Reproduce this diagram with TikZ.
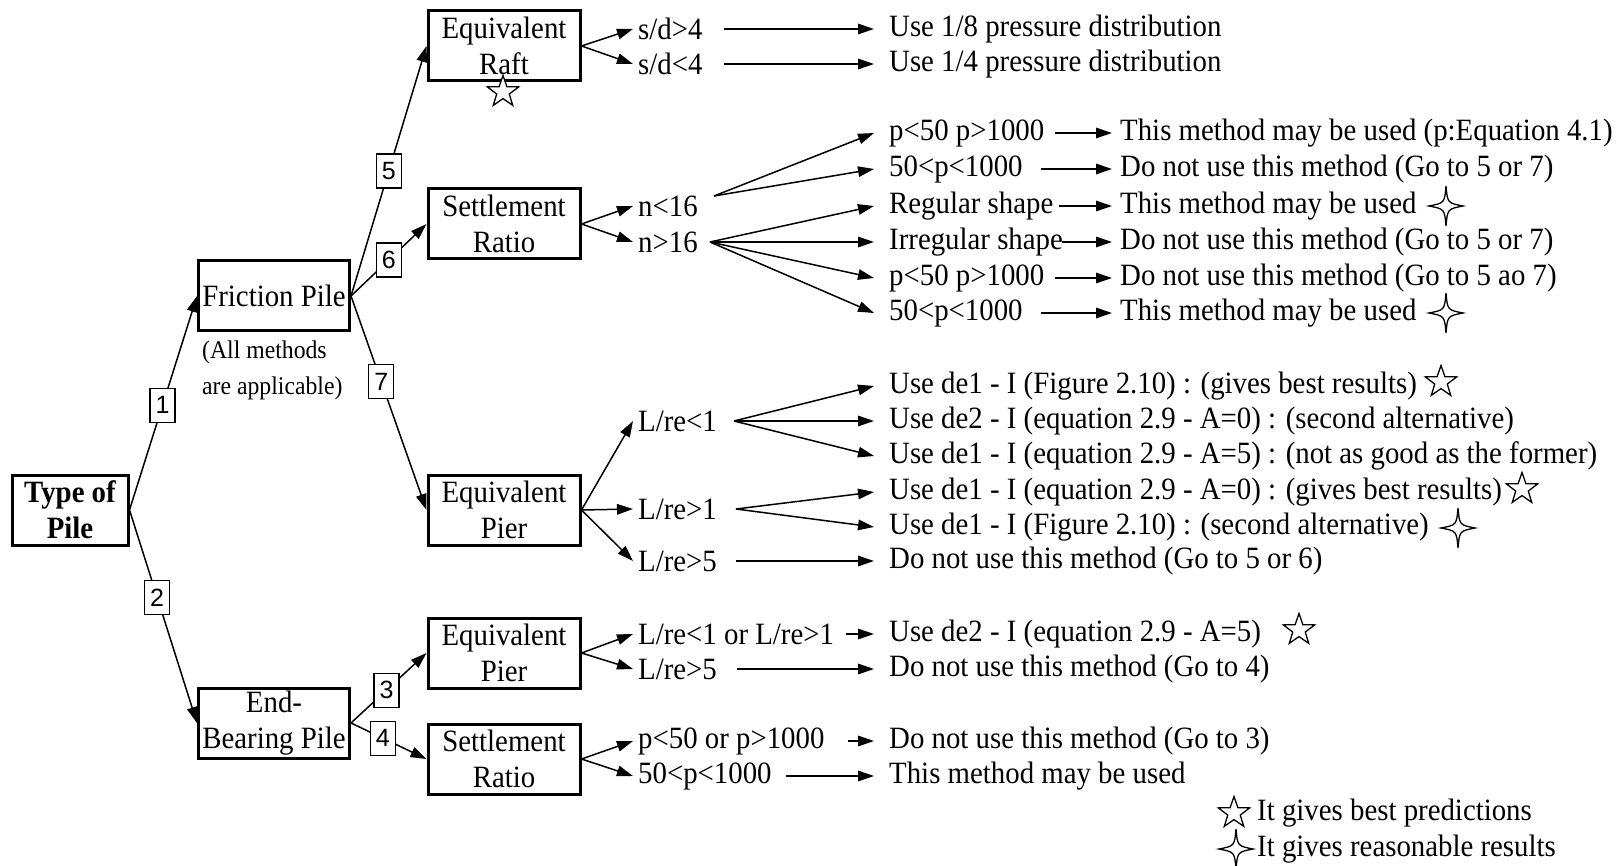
\documentclass[tikz,border=0pt]{standalone}
\usepackage{fontspec}
\setmainfont{Liberation Serif}[FakeStretch=0.93]
\setsansfont{Liberation Sans}
\usetikzlibrary{arrows.meta,calc}
\newcommand{\mainsz}{\fontsize{31}{36}\selectfont}
\newcommand{\notesz}{\fontsize{25.5}{36}\selectfont}
\tikzset{
  arr/.style={-{Triangle[length=16pt,width=10.5pt]}, line width=1.5pt},
  box/.style={draw, line width=3pt, minimum width=152pt, minimum height=70pt, align=center, inner sep=0pt, font=\mainsz},
  lbl/.style={draw, line width=1.2pt, fill=white, minimum width=25pt, minimum height=34pt, inner sep=0pt, font=\sffamily\fontsize{25}{25}\selectfont},
  cnd/.style={anchor=west, inner xsep=5pt, inner ysep=2pt, font=\mainsz},
  sec/.style={anchor=west, inner xsep=15pt, inner ysep=2pt, font=\mainsz},
  res/.style={anchor=west, inner xsep=8pt, inner ysep=2pt, font=\mainsz},
  plain/.style={anchor=west, inner sep=0pt, font=\mainsz},
  fivestar/.pic={\draw[line width=1.3pt, fill=white, line join=miter] (-90:16.5) -- (-54:6.6) -- (-18:16.5) -- (18:6.6) -- (54:16.5) -- (90:6.6) -- (126:16.5) -- (162:6.6) -- (198:16.5) -- (234:6.6) -- cycle;},
  fourstar/.pic={\draw[line width=1.3pt, fill=white] (0,-20) .. controls (1.5,-3) .. (17,0) .. controls (1.5,3) .. (0,20) .. controls (-1.5,3) .. (-17,0) .. controls (-1.5,-3) .. (0,-20) -- cycle;}
}
\begin{document}
\begin{tikzpicture}[x=1pt,y=-1pt]
\useasboundingbox (0,0) rectangle (1622,866);
\fill[white] (0,0) rectangle (1622,866);

% main boxes
\node[box, minimum width=116pt, font=\mainsz\bfseries] (type) at (70,510) {Type of\\Pile};
\node[box, minimum width=151pt] (fp) at (274,296) {Friction Pile};
\node[box, minimum width=151pt] (eb) at (274,723) {End-\\Bearing Pile};
\node[box] (raft) at (504,46) {Equivalent\\Raft};
\node[box] (sr1) at (504,224) {Settlement\\Ratio};
\node[box] (ep1) at (504,510) {Equivalent\\Pier};
\node[box] (ep2) at (504,653) {Equivalent\\Pier};
\node[box] (sr2) at (504,759) {Settlement\\Ratio};

\node[anchor=west, inner sep=0pt, font=\notesz, align=left] (note) at (202,370) {(All methods\\are applicable)};

% numbered connectors
\draw[arr] (type.east) -- node[lbl, pos=0.49] (l1) {1} (fp.west);
\draw[arr] (type.east) -- node[lbl, pos=0.41] (l2) {2} (eb.west);
\draw[arr] (fp.east) -- node[lbl, pos=0.5] (l5) {5} (raft.west);
\draw[arr] (fp.east) -- node[lbl, pos=0.5] (l6) {6} (sr1.west);
\draw[arr] (fp.east) -- node[lbl, pos=0.4] (l7) {7} (ep1.west);
\draw[arr] (eb.east) -- node[lbl, pos=0.47] (l3) {3} (ep2.west);
\draw[arr] (eb.east) -- node[lbl, pos=0.42] (l4) {4} (sr2.west);

\pic at (503,92) {fivestar};

% Equivalent raft branch
\node[cnd] (sd1) at (633,29) {s/d>4};
\node[cnd] (sd2) at (633,64) {s/d<4};
\node[sec] (u1) at (874,29) {Use 1/8 pressure distribution};
\node[sec] (u2) at (874,64) {Use 1/4 pressure distribution};
\draw[arr] (raft.east) -- (sd1.west);
\draw[arr] (raft.east) -- (sd2.west);
\coordinate (tsd1) at (724,29);
\coordinate (tsd2) at (724,64);
\draw[arr] (tsd1) -- (u1.west);
\draw[arr] (tsd2) -- (u2.west);

% Settlement ratio (friction) branch
\node[cnd] (n1) at (633,206) {n<16};
\node[cnd] (n2) at (633,242) {n>16};
\draw[arr] (sr1.east) -- (n1.west);
\draw[arr] (sr1.east) -- (n2.west);
\coordinate (tn1) at (714,196);
\coordinate (tn2) at (710,242);
\node[sec] (a1) at (874,133) {p<50 p>1000};
\node[sec] (a2) at (874,169) {50<p<1000};
\node[sec] (a3) at (874,206) {Regular shape};
\node[sec] (a4) at (874,242) {Irregular shape};
\node[sec] (a5) at (874,278) {p<50 p>1000};
\node[sec] (a6) at (874,313) {50<p<1000};
\draw[arr] (tn1) -- (a1.west);
\draw[arr] (tn1) -- (a2.west);
\draw[arr] (tn2) -- (a3.west);
\draw[arr] (tn2) -- (a4.west);
\draw[arr] (tn2) -- (a5.west);
\draw[arr] (tn2) -- (a6.west);
\node[res] (r1) at (1112,133) {This method may be used (p:Equation 4.1)};
\node[res] (r2) at (1112,169) {Do not use this method (Go to 5 or 7)};
\node[res] (r3) at (1112,206) {This method may be used};
\node[res] (r4) at (1112,242) {Do not use this method (Go to 5 or 7)};
\node[res] (r5) at (1112,278) {Do not use this method (Go to 5 ao 7)};
\node[res] (r6) at (1112,313) {This method may be used};
\coordinate (ta1) at (1055,133);
\coordinate (ta2) at (1041,169);
\coordinate (ta3) at (1059,206);
\coordinate (ta4) at (1062,242);
\coordinate (ta5) at (1055,278);
\coordinate (ta6) at (1041,313);
\draw[arr] (ta1) -- (r1.west);
\draw[arr] (ta2) -- (r2.west);
\draw[arr] (ta3) -- (r3.west);
\draw[arr] (ta4) -- (r4.west);
\draw[arr] (ta5) -- (r5.west);
\draw[arr] (ta6) -- (r6.west);
\pic at (1446,206) {fourstar};
\pic at (1446,313) {fourstar};

% Equivalent pier (friction) branch
\node[cnd] (L1) at (633,421) {L/re<1};
\node[cnd] (L2) at (633,509) {L/re>1};
\node[cnd] (L3) at (633,561) {L/re>5};
\draw[arr] (ep1.east) -- (L1.west);
\draw[arr] (ep1.east) -- (L2.west);
\draw[arr] (ep1.east) -- (L3.west);
\coordinate (tL1) at (734,421);
\coordinate (tL2) at (736,509);
\coordinate (tL3) at (736,561);
\node[sec] (b1) at (874,386) {Use de1 - I (Figure 2.10) : (gives best results)};
\node[sec] (b2) at (874,421) {Use de2 - I (equation 2.9 - A=0) : (second alternative)};
\node[sec] (b3) at (874,456) {Use de1 - I (equation 2.9 - A=5) : (not as good as the former)};
\node[sec] (b4) at (874,492) {Use de1 - I (equation 2.9 - A=0) : (gives best results)};
\node[sec] (b5) at (874,527) {Use de1 - I (Figure 2.10) : (second alternative)};
\node[sec] (b6) at (874,561) {Do not use this method (Go to 5 or 6)};
\draw[arr] (tL1) -- (b1.west);
\draw[arr] (tL1) -- (b2.west);
\draw[arr] (tL1) -- (b3.west);
\draw[arr] (tL2) -- (b4.west);
\draw[arr] (tL2) -- (b5.west);
\draw[arr] (tL3) -- (b6.west);
\pic at (1441,382) {fivestar};
\pic at (1522,489) {fivestar};
\pic at (1458,528) {fourstar};

% Equivalent pier (end bearing) branch
\node[cnd] (c1) at (633,634) {L/re<1 or L/re>1};
\node[cnd] (c2) at (633,669) {L/re>5};
\draw[arr] (ep2.east) -- (c1.west);
\draw[arr] (ep2.east) -- (c2.west);
\node[sec] (e1) at (874,634) {Use de2 - I (equation 2.9 - A=5)};
\node[sec] (e2) at (874,669) {Do not use this method (Go to 4)};
\coordinate (tc1) at (846,634);
\coordinate (tc2) at (737,669);
\draw[arr] (tc1) -- (e1.west);
\draw[arr] (tc2) -- (e2.west);
\pic at (1299,630) {fivestar};

% Settlement ratio (end bearing) branch
\node[cnd] (d1) at (633,741) {p<50 or p>1000};
\node[cnd] (d2) at (633,776) {50<p<1000};
\draw[arr] (sr2.east) -- (d1.west);
\draw[arr] (sr2.east) -- (d2.west);
\node[sec] (f1) at (874,741) {Do not use this method (Go to 3)};
\node[sec] (f2) at (874,776) {This method may be used};
\coordinate (td1) at (848,741);
\coordinate (td2) at (786,776);
\draw[arr] (td1) -- (f1.west);
\draw[arr] (td2) -- (f2.west);

% legend
\pic at (1234,813) {fivestar};
\pic at (1236,849) {fourstar};
\node[plain] (leg1) at (1257,813) {It gives best predictions};
\node[plain] (leg2) at (1257,849) {It gives reasonable results};
\end{tikzpicture}
\end{document}
